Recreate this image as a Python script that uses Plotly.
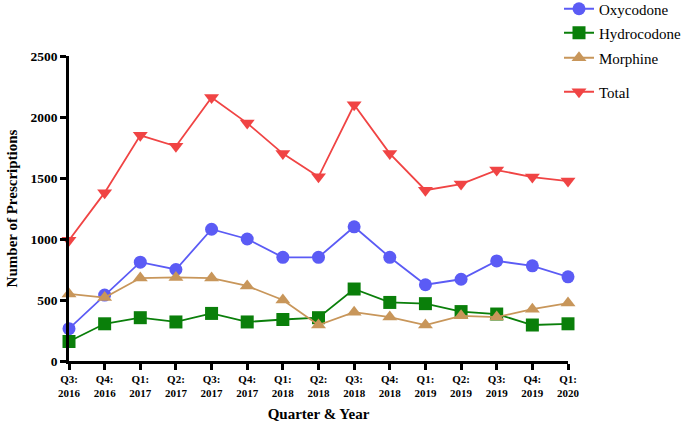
import plotly.graph_objects as go

quarters = ["Q3:<br>2016", "Q4:<br>2016", "Q1:<br>2017", "Q2:<br>2017", "Q3:<br>2017",
            "Q4:<br>2017", "Q1:<br>2018", "Q2:<br>2018", "Q3:<br>2018", "Q4:<br>2018",
            "Q1:<br>2019", "Q2:<br>2019", "Q3:<br>2019", "Q4:<br>2019", "Q1:<br>2020"]
oxycodone = [265, 540, 810, 750, 1080, 1000, 850, 850, 1100, 850, 625, 670, 820, 780, 690]
hydrocodone = [160, 305, 355, 320, 390, 320, 340, 355, 590, 480, 470, 405, 385, 295, 305]
morphine = [550, 520, 680, 685, 680, 615, 500, 295, 400, 360, 295, 370, 360, 425, 475]
total = [990, 1380, 1850, 1760, 2160, 1950, 1700, 1510, 2100, 1700, 1400, 1450, 1565, 1508, 1475]
y_ticks = [0, 500, 1000, 1500, 2000, 2500]

x = list(range(len(quarters)))
font = "Liberation Serif, Times New Roman, serif"
W, H = 685, 422

# name, values, colour, symbol, legend id, legend row centre (px from top)
series = [
    ("Oxycodone", oxycodone, "#5B5BF5", "circle", "legend", 9),
    ("Hydrocodone", hydrocodone, "#0A7F0A", "square", "legend2", 33),
    ("Morphine", morphine, "#C8965A", "triangle-up", "legend3", 58),
    ("Total", total, "#F04444", "triangle-down", "legend4", 92),
]

fig = go.Figure()
legends = {}
for name, vals, color, sym, leg, cy in series:
    fig.add_trace(go.Scatter(
        x=x, y=vals, name=name, mode="lines+markers", showlegend=True,
        line=dict(color=color, width=1.8),
        marker=dict(color=color, symbol=sym, size=13, line=dict(width=0)),
        cliponaxis=False, legend=leg,
    ))
    legends[leg] = dict(
        x=559 / W, xref="container", yref="container",
        y=1 - cy / H, xanchor="left", yanchor="middle",
        font=dict(family=font, size=15), bgcolor="rgba(0,0,0,0)", itemwidth=30,
    )

fig.update_layout(
    width=W, height=H, showlegend=True,
    margin=dict(l=69, r=117, t=56, b=61, autoexpand=False),
    plot_bgcolor="white", paper_bgcolor="white",
    font=dict(family=font, color="black"),
    xaxis=dict(
        range=[0, 14], tickmode="array", tickvals=x, ticktext=[f"<b>{q}</b>" for q in quarters],
        showline=True, linecolor="black", linewidth=2.5, ticks="outside", tickwidth=2.5,
        ticklen=6, tickcolor="black", showgrid=False, zeroline=False,
        tickfont=dict(family=font, size=11),
        title=dict(text="<b>Quarter & Year</b>", font=dict(family=font, size=15), standoff=14),
    ),
    yaxis=dict(
        range=[0, 2500], tickvals=y_ticks,
        ticktext=[f"<b>{v}</b>" for v in y_ticks],
        showline=True, linecolor="black", linewidth=2.5, ticks="outside", tickwidth=2.5,
        ticklen=6, tickcolor="black", showgrid=False, zeroline=False,
        tickfont=dict(family=font, size=13.5),
        title=dict(text="<b>Number of Prescriptions</b>", font=dict(family=font, size=15), standoff=10),
    ),
    **legends,
)

fig.write_html("out.html", config={"displayModeBar": False},
               post_script="document.body.style.margin='0px';")
